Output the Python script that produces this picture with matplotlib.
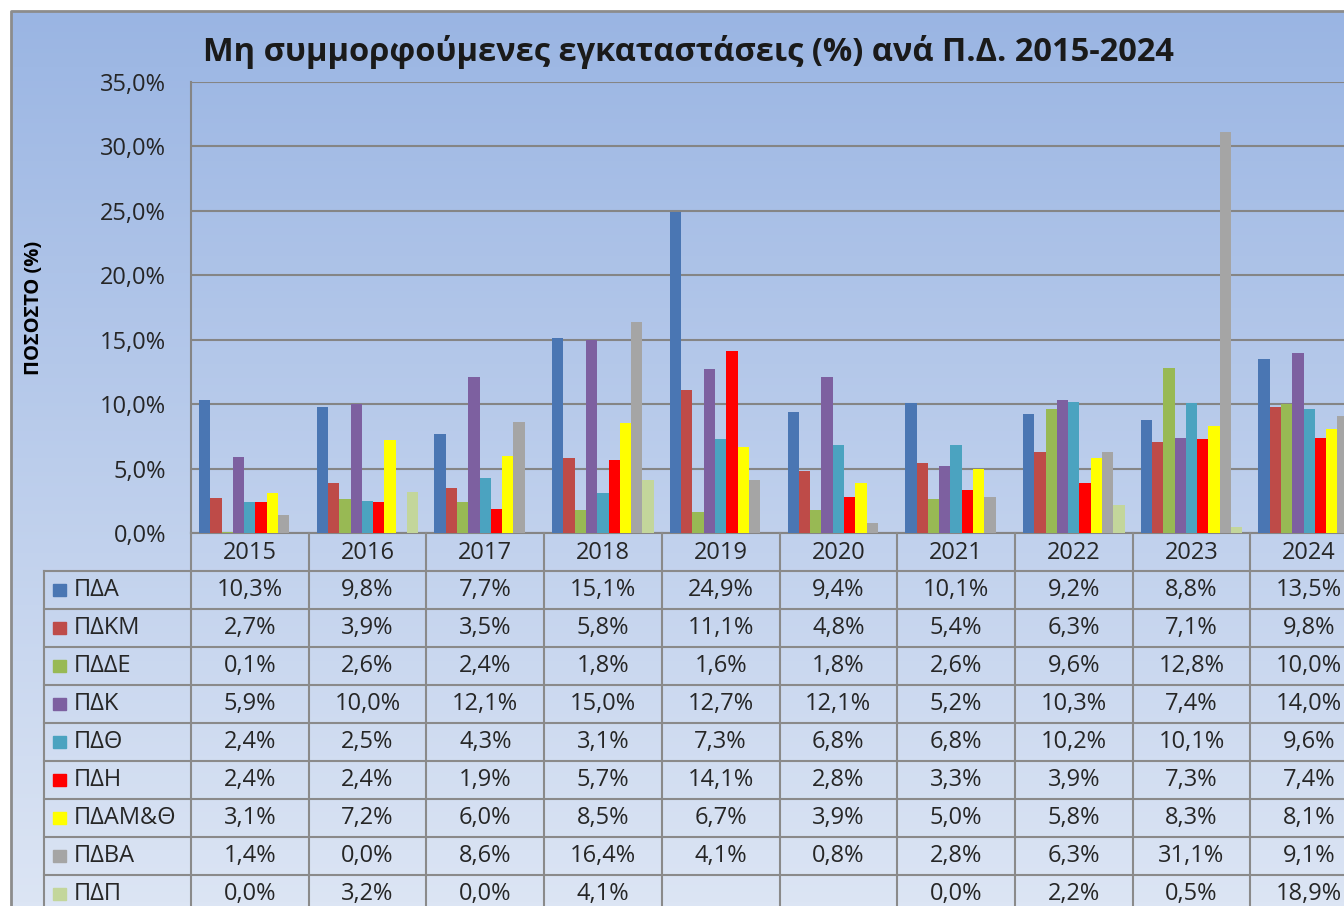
import numpy as np
import matplotlib
matplotlib.use("Agg")
from matplotlib import pyplot as plt
from matplotlib.patches import Rectangle

plt.rcParams['font.family'] = ['Open Sans', 'DejaVu Sans']

years = ["2015", "2016", "2017", "2018", "2019", "2020", "2021", "2022", "2023", "2024"]
regions = ["ΠΔΑ", "ΠΔΚΜ", "ΠΔΔΕ", "ΠΔΚ", "ΠΔΘ", "ΠΔΗ", "ΠΔΑΜ&Θ", "ΠΔΒΑ", "ΠΔΠ"]
colors = ["#4A76B3", "#BE4B48", "#98B954", "#7D60A0", "#4BA3C0",
          "#FF0000", "#FFFF00", "#A5A5A5", "#C3D69B"]

pda = [10.3, 9.8, 7.7, 15.1, 24.9, 9.4, 10.1, 9.2, 8.8, 13.5]
pdkm = [2.7, 3.9, 3.5, 5.8, 11.1, 4.8, 5.4, 6.3, 7.1, 9.8]
pdde = [0.1, 2.6, 2.4, 1.8, 1.6, 1.8, 2.6, 9.6, 12.8, 10.0]
pdk = [5.9, 10.0, 12.1, 15.0, 12.7, 12.1, 5.2, 10.3, 7.4, 14.0]
pdth = [2.4, 2.5, 4.3, 3.1, 7.3, 6.8, 6.8, 10.2, 10.1, 9.6]
pdh = [2.4, 2.4, 1.9, 5.7, 14.1, 2.8, 3.3, 3.9, 7.3, 7.4]
pdamth = [3.1, 7.2, 6.0, 8.5, 6.7, 3.9, 5.0, 5.8, 8.3, 8.1]
pdva = [1.4, 0.0, 8.6, 16.4, 4.1, 0.8, 2.8, 6.3, 31.1, 9.1]
pdp = [0.0, 3.2, 0.0, 4.1, None, None, 0.0, 2.2, 0.5, 18.9]
series = [pda, pdkm, pdde, pdk, pdth, pdh, pdamth, pdva, pdp]

W, H = 1344, 906
fig = plt.figure(figsize=(W / 100, H / 100), dpi=100)
fig.patch.set_facecolor("white")

# background gradient of the chart area
bg = fig.add_axes([0, 0, 1, 1], zorder=-10)
grad = np.linspace(0, 1, 256).reshape(-1, 1)
top = np.array([0x9A, 0xB5, 0xE3]) / 255
bot = np.array([0xDC, 0xE5, 0xF4]) / 255
img = top + (bot - top) * grad[:, :, None]
bg.imshow(img, aspect="auto", extent=[11, W, H, 11])
bg.set_xlim(0, W)
bg.set_ylim(H, 0)
bg.plot([11, 11, W], [H, 11, 11], color="#8C8C8C", lw=2)
bg.axis("off")

txt = "#262626"
fs = 17
cat_w = 117.7
ax = fig.add_axes([191 / W, (H - 533) / H, 10 * cat_w / W, 451 / H])
ax.set_facecolor("none")
x = np.arange(len(years))
w = 0.096
for i, (name, vals, c) in enumerate(zip(regions, series, colors)):
    xs = [xi + (i - 4) * w for xi, v in zip(x, vals) if v is not None]
    hs = [v for v in vals if v is not None]
    ax.bar(xs, hs, width=w, color=c, zorder=3, linewidth=0)
ax.set_xlim(-0.5, 9.5)
ax.set_ylim(0, 35)
ax.set_yticks(np.arange(0, 36, 5))
ax.set_yticklabels([f"{t:.1f}%".replace(".", ",") for t in np.arange(0, 36, 5)],
                   fontsize=fs, color=txt)
ax.tick_params(axis="y", length=0, pad=18)
ax.set_xticks([])
ax.grid(axis="y", color="#858585", lw=1.5, zorder=0)
for s in ["top", "right"]:
    ax.spines[s].set_visible(False)
for s in ["left", "bottom"]:
    ax.spines[s].set_color("#858585")
    ax.spines[s].set_linewidth(1.5)
ax.set_ylabel("ΠΟΣΟΣΤΟ (%)", fontsize=14.5, fontweight="bold")
ax.yaxis.set_label_coords(-147 / (10 * cat_w), 0.5)

fig.text(688 / W, 1 - 52 / H, "Μη συμμορφούμενες εγκαταστάσεις (%) ανά Π.Δ. 2015-2024",
         ha="center", va="center", fontsize=23.5, fontweight="bold", color="#1a1a1a")

# data table
row_h = 38
left_units = (191 - 44) / cat_w
tx = fig.add_axes([44 / W, (H - 533 - 10 * row_h) / H, (10 * cat_w + 147) / W, 10 * row_h / H])
tx.set_xlim(-0.5 - left_units, 9.5)
tx.set_ylim(10, 0)
tx.axis("off")
lc = "#8A8A8A"
for k in range(11):
    tx.plot([k - 0.5, k - 0.5], [0, 10], color=lc, lw=1.5, clip_on=False)
tx.plot([-0.5 - left_units] * 2, [1, 10], color=lc, lw=1.5, clip_on=False)
for r in range(1, 10):
    tx.plot([-0.5 - left_units, 9.5], [r, r], color=lc, lw=1.5, clip_on=False)

for j, y in enumerate(years):
    tx.text(j, 0.52, y, ha="center", va="center", fontsize=fs, color=txt)

key_x = (53 - 191) / cat_w - 0.5
for i, (name, vals, c) in enumerate(zip(regions, series, colors)):
    r = i + 1
    tx.add_patch(Rectangle((key_x, r + 0.5 - 0.17), 13 / cat_w, 0.34, color=c, clip_on=False))
    tx.text(key_x + 21 / cat_w, r + 0.5, name, ha="left", va="center",
            fontsize=fs, color=txt)
    for j, v in enumerate(vals):
        if v is None:
            continue
        tx.text(j, r + 0.5, f"{v:.1f}%".replace(".", ","), ha="center", va="center",
                fontsize=fs, color=txt, clip_on=False)

fig.savefig("out.png", dpi=100)
